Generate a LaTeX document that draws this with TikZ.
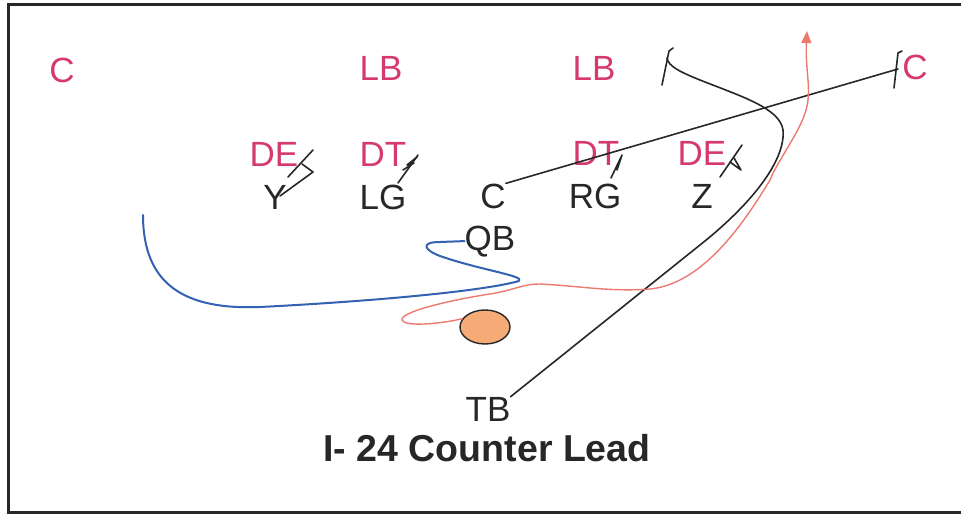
\documentclass[tikz,border=0pt]{standalone}
\usepackage{fontspec}
\setmainfont{Liberation Sans}
\usetikzlibrary{arrows.meta,calc,shapes.geometric}
\definecolor{defred}{RGB}{214,58,108}
\definecolor{ink}{RGB}{38,40,40}
\definecolor{runred}{RGB}{236,122,112}
\definecolor{passblue}{RGB}{52,98,178}
\definecolor{ballfill}{RGB}{246,170,118}
\begin{document}
\begin{tikzpicture}[x=1pt,y=-1pt,
  defn/.style={text=defred,font=\fontsize{35}{35}\selectfont,inner sep=0pt,anchor=base},
  offn/.style={text=ink,font=\fontsize{35}{35}\selectfont,inner sep=0pt,anchor=base},
  blockline/.style={draw=ink,line width=1.6pt,line cap=round,line join=round},
  runline/.style={draw=runred,line width=1.4pt,line cap=round,line join=round},
  passline/.style={draw=passblue,line width=2pt,line cap=round,line join=round}]
\useasboundingbox (0,0) rectangle (961,516);
\fill[white] (0,0) rectangle (961,516);
% frame
\draw[ink,line width=3pt] (961,5) -- (8,5) -- (8,512) -- (961,512);

% defence
\node[defn] (cl) at (62,83) {C};
\node[defn] (lb1) at (381,81) {LB};
\node[defn] (lb2) at (594,81) {LB};
\node[defn] (cr) at (915,80) {C};
\node[defn] (de1) at (274,167) {DE};
\node[defn] (dt1) at (383,167) {DT};
\node[defn] (dt2) at (596,165) {DT};
\node[defn] (de2) at (702,165) {DE};

% offence
\node[offn] (y) at (275,209) {Y};
\node[offn] (lg) at (383,209) {LG};
\node[offn] (c) at (493,208) {C};
\node[offn] (rg) at (595,208) {RG};
\node[offn] (z) at (702,208) {Z};
\node[offn] (qb) at (490,250) {QB};
\node[offn] (tb) at (488,421) {TB};
\node[draw=ink,line width=1.4pt,fill=ballfill,ellipse,minimum width=50pt,minimum height=34pt,inner sep=0pt] (ball) at (485,327) {};

% title
\node[text=ink,font=\bfseries\fontsize{37.5}{38}\selectfont,inner sep=0pt,anchor=base] (title) at (487,461) {I- 24 Counter Lead};

% blocks on the line
\draw[blockline] (313,150) -- (288,177);
\draw[blockline] (302,164) -- (313,172) -- (280,196);
\draw[blockline] (398,183) -- (418,155);
\draw[blockline] (403,170) -- (414,163) -- (407,165) -- (417,157);
\draw[blockline] (611,178) -- (622,155) -- (617,170);
\draw[blockline] (720,177) -- (742,145);
\draw[blockline] (730,162) -- (741,170) -- (734,158);

% centre to the far corner
\coordinate (cblk) at (898,69);
\draw[blockline] (c.north east) -- (cblk);
\draw[blockline] (894,88) -- (898,53) -- (902,51);

% tailback lead through the hole
\coordinate (tbblk) at (667,58);
\draw[blockline] (tb.north east) -- (700,245)
  .. controls (748,207) and (786,162) .. (783,130)
  .. controls (780,108) and (740,96) .. (700,80)
  .. controls (680,72) and (668,66) .. (tbblk);
\draw[blockline] (662,85) -- (669,51) -- (673,48);

% quarterback fake and bootleg
\draw[passline] (qb.west) -- (440,242)
  .. controls (420,242) and (424,250) .. (440,256)
  .. controls (480,270) and (526,276) .. (519,281)
  .. controls (480,292) and (360,302) .. (260,307)
  .. controls (185,310) and (143,285) .. (143,215);

% ball carrier counter path
\coordinate (runend) at (807,31);
\draw[runline,-{Triangle[length=12pt,width=10pt]}] (ball.160)
  .. controls (440,324) and (404,327) .. (402,320)
  .. controls (400,312) and (450,300) .. (490,294)
  .. controls (515,290) and (522,284) .. (540,284)
  .. controls (580,286) and (610,292) .. (650,289)
  .. controls (700,284) and (740,230) .. (770,180)
  .. controls (778,160) and (800,132) .. (806,110)
  .. controls (812,90) and (805,70) .. (runend);
\end{tikzpicture}
\end{document}
